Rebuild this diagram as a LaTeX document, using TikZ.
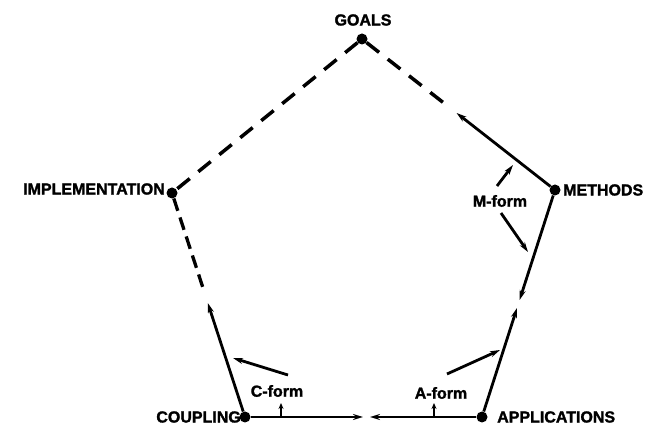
\documentclass[tikz,border=0pt]{standalone}
\usepackage{fontspec}
\setmainfont{Liberation Sans}[BoldFeatures={FakeBold=1.6}]
\usetikzlibrary{arrows.meta}
\begin{document}
\begin{tikzpicture}[x=1pt,y=-1pt,
  dotnode/.style={circle,fill=black,inner sep=0pt,minimum size=11pt},
  lbl/.style={font=\fontsize{16}{16}\selectfont\bfseries,inner sep=0pt},
  formlbl/.style={font=\fontsize{16}{16}\selectfont\bfseries,inner sep=0pt},
  longdash/.style={line width=3.5pt,dash pattern=on 16pt off 11pt},
  shortdash/.style={line width=3.3pt,dash pattern=on 13pt off 7pt},
  arr/.style={line width=2.8pt,-{Stealth[length=10pt,width=6pt]}},
  ticker/.style={line width=2pt,-{Stealth[length=6pt,width=5pt]}}
]
\useasboundingbox (0,0) rectangle (646,430);
% vertices
\node[dotnode] (G) at (362,39) {};
\node[dotnode] (M) at (555,190) {};
\node[dotnode] (A) at (482,417) {};
\node[dotnode] (C) at (245,417) {};
\node[dotnode] (I) at (172,193) {};
% vertex labels
\node[lbl] (tG) at (363,20) {GOALS};
\node[lbl,anchor=west] (tM) at (563,190) {METHODS};
\node[lbl,anchor=east] (tI) at (165,189) {IMPLEMENTATION};
\node[lbl,anchor=east] (tC) at (241,417) {COUPLING};
\node[lbl,anchor=west] (tA) at (497,417) {APPLICATIONS};
% break points
\coordinate (gmEnd) at (447,105.5);
\coordinate (gmTip) at (456.6,113);
\coordinate (maTip) at (519.6,300);
\coordinate (amTip) at (517,308);
\coordinate (icEnd) at (204,291);
\coordinate (ciTip) at (207.8,303);
\coordinate (caTip) at (363,417);
\coordinate (acTip) at (370,417);
% edges
\draw[longdash] (G) -- (I);
\draw[longdash] (G) -- (gmEnd);
\draw[arr] (M) -- (gmTip);
\draw[arr] (M) -- (maTip);
\draw[arr] (A) -- (amTip);
\draw[shortdash] (I) -- (icEnd);
\draw[arr] (C) -- (ciTip);
\draw[arr] (C) -- (caTip);
\draw[arr] (A) -- (acTip);
% form labels
\node[formlbl] (mf) at (500,201) {M-form};
\node[formlbl] (cf) at (277,391) {C-form};
\node[formlbl] (af) at (441,393) {A-form};
\coordinate (mfS1) at (497,186);
\coordinate (mfT1) at (513,165);
\coordinate (mfS2) at (501,213);
\coordinate (mfT2) at (528,252);
\coordinate (cfS) at (288,375);
\coordinate (cfT) at (233,358);
\coordinate (afS) at (447,374);
\coordinate (afT) at (500,350);
\draw[arr] (mfS1) -- (mfT1);
\draw[arr] (mfS2) -- (mfT2);
\draw[arr] (cfS) -- (cfT);
\draw[arr] (afS) -- (afT);
% small ticks under C-form and A-form
\coordinate (cfB) at (281,417);
\coordinate (cfU) at (281,403);
\coordinate (afB) at (434,417);
\coordinate (afU) at (434,403);
\draw[ticker] (cfB) -- (cfU);
\draw[ticker] (afB) -- (afU);
\end{tikzpicture}
\end{document}
